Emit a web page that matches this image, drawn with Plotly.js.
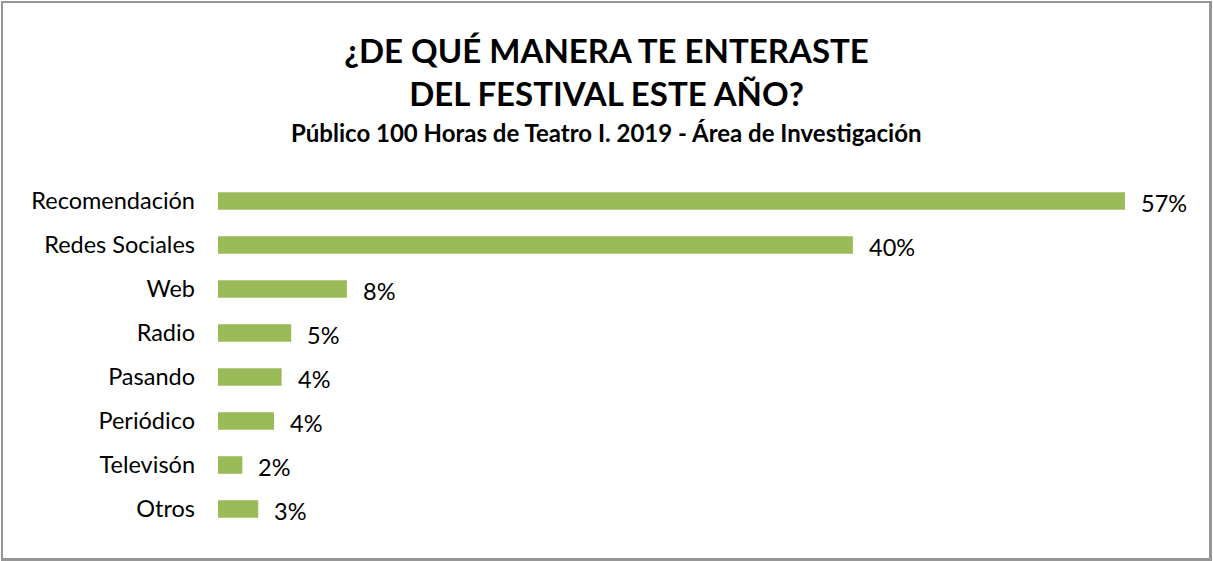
<!DOCTYPE html>
<html>
<head>
<meta charset="utf-8">
<script src="https://cdn.plot.ly/plotly-3.0.1.min.js"></script>
<style>
  html, body { margin: 0; padding: 0; background: #fff; }
  #wrap { position: relative; width: 1213px; height: 561px; }
  #chart { width: 1213px; height: 561px; }
  #frame { position: absolute; left: 1px; top: 1px; width: 1206px; height: 555px;
           border: 2px solid #969696; border-right-width: 3px; border-bottom-width: 3px;
           pointer-events: none; }
</style>
</head>
<body>
<div id="wrap">
  <div id="chart"></div>
  <div id="frame"></div>
</div>
<script>
const categories = ["Recomendación", "Redes Sociales", "Web", "Radio", "Pasando", "Periódico", "Televisón", "Otros"];
const values = [57, 39.9, 8.1, 4.6, 4.0, 3.52, 1.53, 2.53];
const valueLabels = ["57%", "40%", "8%", "5%", "4%", "4%", "2%", "3%"];
const titleLines = ["¿DE QUÉ MANERA TE ENTERASTE", "DEL FESTIVAL ESTE AÑO?"];
const subtitleText = "Público 100 Horas de Teatro I. 2019 - Área de Investigación";

const FONT = "Lato, 'Open Sans', sans-serif";
const barColor = "#9BBB59";

const trace = {
  type: "bar",
  orientation: "h",
  y: categories,
  x: values,
  marker: { color: barColor, line: { width: 0 } },
  hoverinfo: "skip",
  showlegend: false
};

const valueAnnotations = categories.map((c, i) => ({
  x: values[i], y: c, xref: "x", yref: "y",
  text: valueLabels[i], showarrow: false,
  xanchor: "left", yanchor: "middle", xshift: 14, yshift: -2,
  font: { family: FONT, size: 23.5, color: "#000" }
}));

const plotLeft = 218, plotRight = 18;
const plotW = 1213 - plotLeft - plotRight;

const layout = {
  width: 1213, height: 561,
  paper_bgcolor: "#fff", plot_bgcolor: "#fff",
  margin: { l: plotLeft, r: plotRight, t: 179, b: 30, pad: 0 },
  bargap: 0.6,
  title: {
    text: titleLines.join("<br>"),
    font: { family: FONT, size: 33, color: "#000", weight: "bold" },
    x: 0.5, xanchor: "center", xref: "container",
    y: 1 - 63 / 561, yanchor: "top", yref: "container"
  },
  xaxis: {
    range: [0, 61.4], visible: false, showgrid: false, zeroline: false, fixedrange: true
  },
  yaxis: {
    autorange: "reversed", showgrid: false, zeroline: false, showline: false,
    ticks: "", ticklabelstandoff: 22,
    tickfont: { family: FONT, size: 23.5, color: "#000" }, fixedrange: true
  },
  annotations: [
    {
      xref: "paper", yref: "paper",
      x: (606.5 - plotLeft) / plotW, y: (531 - 132) / 352,
      text: subtitleText, showarrow: false, xanchor: "center", yanchor: "middle",
      font: { family: FONT, size: 24, color: "#000", weight: "bold" }
    }
  ].concat(valueAnnotations)
};

Plotly.newPlot("chart", [trace], layout, { displayModeBar: false, staticPlot: true });
</script>
</body>
</html>
